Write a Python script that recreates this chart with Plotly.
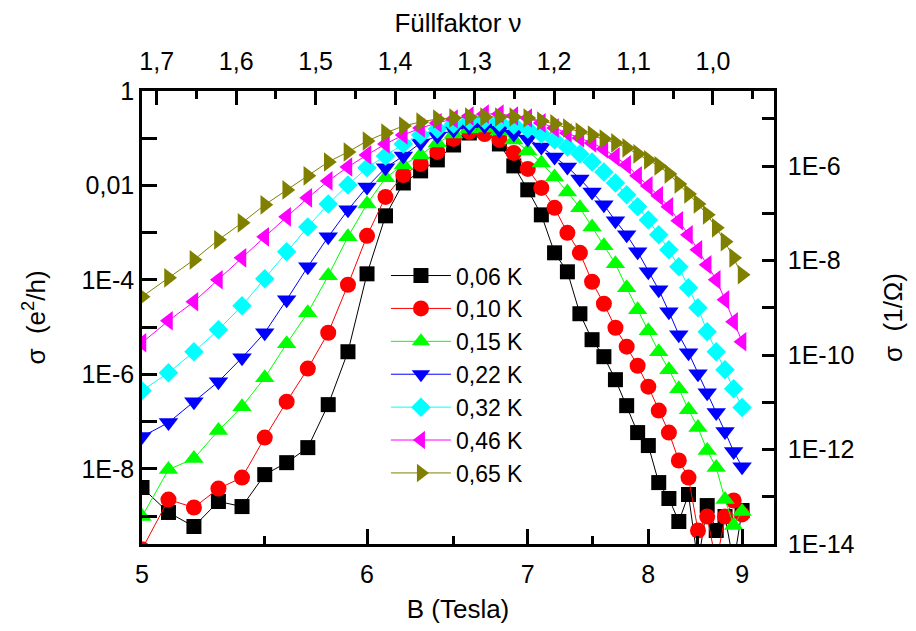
import math
import plotly.graph_objects as go

# Magnetic field (Tesla)
B = [5.0, 5.1, 5.2, 5.3, 5.4, 5.5, 5.6, 5.7, 5.8, 5.9,
     6.0, 6.1, 6.2, 6.3, 6.4, 6.5, 6.6, 6.7, 6.8, 6.9,
     7.0, 7.1, 7.2, 7.3, 7.4, 7.5, 7.6, 7.7, 7.8, 7.9,
     8.0, 8.1, 8.2, 8.3, 8.4, 8.5, 8.6, 8.7, 8.8, 8.9, 9.0]

# conductivity sigma in e^2/h
s006 = [4.05e-9, 1.2e-9, 6.05e-10, 2.05e-9, 1.6e-9, 7.6e-9, 1.36e-8, 2.83e-8, 2.3e-7, 3.03e-6,
        1.35e-4, 2.28e-3, 1.13e-2, 2.04e-2, 3.48e-2, 7.2e-2, 0.129, 0.15, 7.57e-2, 2.6e-2,
        8.1e-3, 2.39e-3, 3.76e-4, 1.49e-4, 1.93e-5, 5.45e-6, 2.38e-6, 7.76e-7, 2.19e-7, 5.89e-8,
        3.13e-8, 5.15e-9, 2.37e-9, 7.73e-10, 2.88e-9, 1.0e-10, 1.68e-9, 4.99e-10, 9.86e-10, 1.0e-10, 1.32e-9]
s010 = [2.0e-10, 2.25e-9, 1.53e-9, 3.85e-9, 6.58e-9, 4.61e-8, 2.66e-7, 1.33e-6, 7.65e-6, 7.92e-5,
        8.6e-4, 5.74e-3, 1.67e-2, 2.86e-2, 5.13e-2, 9.66e-2, 0.136, 0.123, 9.2e-2, 4.89e-2,
        2.24e-2, 8.9e-3, 3.36e-3, 9.95e-4, 3.76e-4, 9.16e-5, 3.14e-5, 9.75e-6, 3.87e-6, 1.53e-6,
        5.52e-7, 1.72e-7, 5.89e-8, 1.51e-8, 6.58e-9, 4.99e-10, 9.86e-10, 1.0e-10, 9.86e-10, 2.15e-9, 1.09e-9]
s015 = [9.86e-10, 9.7e-9, 1.66e-8, 6.49e-8, 2.08e-7, 8.55e-7, 4.48e-6, 2.03e-5, 1.23e-4, 8.19e-4,
        4.08e-3, 1.45e-2, 2.73e-2, 4.44e-2, 7.96e-2, 0.123, 0.157, 0.165, 0.143, 9.2e-2,
        5.39e-2, 3.0e-2, 1.52e-2, 7.32e-3, 3.36e-3, 1.33e-3, 5.28e-4, 2.2e-4, 6.84e-5, 2.34e-5,
        8.43e-6, 3.03e-6, 1.26e-6, 5.01e-7, 1.8e-7, 7.5e-8, 2.45e-8, 1.07e-8, 2.25e-9, 6.36e-10, 1.26e-9]
s022 = [4.84e-8, 9.57e-8, 2.66e-7, 7.05e-7, 2.26e-6, 7.65e-6, 3.81e-5, 1.9e-4, 8.19e-4, 3.05e-3,
        9.33e-3, 2.36e-2, 4.23e-2, 7.96e-2, 0.112, 0.150, 0.173, 0.182, 0.150, 0.123,
        9.66e-2, 6.55e-2, 4.03e-2, 2.47e-2, 1.38e-2, 7.32e-3, 3.89e-3, 1.79e-3, 9.03e-4, 3.95e-4,
        1.49e-4, 6.21e-5, 2.13e-5, 6.93e-6, 2.89e-6, 1.04e-6, 4.12e-7, 1.56e-7, 6.18e-8, 2.33e-8, 1.12e-8]
s032 = [4.55e-7, 1.09e-6, 3.03e-6, 8.85e-6, 2.85e-5, 1.06e-4, 3.95e-4, 1.33e-3, 4.08e-3, 1.03e-2,
        2.36e-2, 4.23e-2, 7.57e-2, 0.117, 0.157, 0.201, 0.232, 0.244, 0.221, 0.191,
        0.157, 0.123, 9.2e-2, 6.55e-2, 4.66e-2, 3.15e-2, 1.94e-2, 1.13e-2, 6.33e-3, 3.53e-3,
        1.87e-3, 9.03e-4, 4.35e-4, 1.9e-4, 6.84e-5, 2.58e-5, 8.03e-6, 3.03e-6, 1.26e-6, 5.01e-7, 1.99e-7]
s046 = [4.7e-6, 1.37e-5, 3.46e-5, 1.01e-4, 2.94e-4, 8.19e-4, 2.17e-3, 5.47e-3, 1.25e-2, 2.47e-2,
        4.44e-2, 7.57e-2, 0.117, 0.165, 0.211, 0.256, 0.296, 0.327, 0.327, 0.296,
        0.269, 0.211, 0.165, 0.129, 0.101, 7.96e-2, 5.94e-2, 4.03e-2, 2.73e-2, 1.6e-2,
        9.81e-3, 6.03e-3, 3.53e-3, 1.79e-3, 9.03e-4, 4.35e-4, 2.1e-4, 1.01e-4, 3.81e-5, 1.31e-5, 4.93e-6]
s065 = [4.42e-5, 1.11e-4, 2.67e-4, 7.08e-4, 1.62e-3, 3.89e-3, 8.07e-3, 1.6e-2, 3.15e-2, 5.13e-2,
        8.77e-2, 0.129, 0.182, 0.221, 0.256, 0.269, 0.282, 0.282, 0.282, 0.282,
        0.269, 0.232, 0.201, 0.165, 0.136, 0.117, 9.66e-2, 7.96e-2, 6.24e-2, 4.66e-2,
        3.48e-2, 2.6e-2, 1.76e-2, 1.08e-2, 6.64e-3, 4.08e-3, 2.39e-3, 1.27e-3, 6.43e-4, 2.94e-4, 1.29e-4]

series_names = ["0,06 K", "0,10 K", "0,15 K", "0,22 K", "0,32 K", "0,46 K", "0,65 K"]
series_vals = [s006, s010, s015, s022, s032, s046, s065]
colors = ["#000000", "#FF0000", "#00FF00", "#0000FF", "#00FFFF", "#FF00FF", "#808000"]
symbols = ["square", "circle", "triangle-up", "triangle-down", "diamond", "triangle-left", "triangle-right"]
sizes = [15, 16, 17, 17, 15, 17, 17]

# axis ticks
B_ticks = [5, 6, 7, 8, 9]
B_minor = [5.5, 6.5, 7.5, 8.5]
B_range = [5.0, 9.40]
nu_ticks = [1.7, 1.6, 1.5, 1.4, 1.3, 1.2, 1.1, 1.0]
nu_labels = ["1,7", "1,6", "1,5", "1,4", "1,3", "1,2", "1,1", "1,0"]
nu_minor = [1.65, 1.55, 1.45, 1.35, 1.25, 1.15, 1.05, 0.95]
nu_range = [1.7185, 0.9232]
left_tickvals = [1, 1e-1, 1e-2, 1e-3, 1e-4, 1e-5, 1e-6, 1e-7, 1e-8, 1e-9]
left_ticktext = ["1", "", "0,01", "", "1E-4", "", "1E-6", "", "1E-8", ""]
right_tickvals = [1e-5, 1e-6, 1e-7, 1e-8, 1e-9, 1e-10, 1e-11, 1e-12, 1e-13, 1e-14]
right_ticktext = ["", "1E-6", "", "1E-8", "", "1E-10", "", "1E-12", "", "1E-14"]
E2H = 3.874e-5  # e^2/h in 1/Ohm

FONT = "Liberation Sans, Arial, sans-serif"
invB = [1.0 / b for b in B]

fig = go.Figure()
for name, vals, c, sym, sz in zip(series_names, series_vals, colors, symbols, sizes):
    fig.add_trace(go.Scatter(
        x=invB, y=vals, name=name, mode="lines+markers",
        line=dict(color=c, width=1),
        marker=dict(symbol=sym, size=sz, color=c, line=dict(width=0)),
    ))
# empty helper trace so that the secondary (top / right) axes are drawn
fig.add_trace(go.Scatter(x=[], y=[], xaxis="x2", yaxis="y2", showlegend=False,
                         hoverinfo="skip", mode="markers"))

axis_common = dict(showline=True, linecolor="black", linewidth=2.5, ticks="inside",
                   tickcolor="black", tickwidth=2.5, showgrid=False, zeroline=False,
                   automargin=False,
                   tickfont=dict(family=FONT, size=25, color="black"))

fig.update_layout(
    width=916, height=631,
    margin=dict(l=134, r=150, t=83, b=95, autoexpand=False),
    paper_bgcolor="white", plot_bgcolor="white",
    font=dict(family=FONT, size=24, color="black"),
    showlegend=True,
    legend=dict(x=0.386, y=0.64, xanchor="left", yanchor="top",
                bgcolor="rgba(0,0,0,0)", font=dict(family=FONT, size=23),
                itemwidth=60, tracegroupgap=0),
    xaxis=dict(type="linear", range=[1.0 / B_range[0], 1.0 / B_range[1]],
               tickvals=[1.0 / b for b in B_ticks], ticktext=[str(b) for b in B_ticks],
               ticklen=15, ticklabelstandoff=6,
               minor=dict(tickvals=[1.0 / b for b in B_minor], ticklen=8, ticks="inside",
                          tickcolor="black", tickwidth=2.5, showgrid=False),
               title=dict(text="B (Tesla)", font=dict(family=FONT, size=26), standoff=14),
               **axis_common),
    xaxis2=dict(type="linear", range=nu_range, overlaying="x", side="top", anchor="y",
                tickvals=nu_ticks, ticktext=nu_labels, ticklen=14, ticklabelstandoff=8,
                minor=dict(tickvals=nu_minor, ticklen=8, ticks="inside",
                           tickcolor="black", tickwidth=2.5, showgrid=False),
                title=dict(text="Füllfaktor ν", font=dict(family=FONT, size=26), standoff=26),
                **axis_common),
    yaxis=dict(type="log", range=[math.log10(1e-14 / E2H), 0],
               tickvals=left_tickvals, ticktext=left_ticktext, ticklen=15,
               title=dict(text="σ  (e<sup>2</sup>/h)", font=dict(family=FONT, size=26), standoff=29),
               **axis_common),
    yaxis2=dict(type="log", range=[-14, math.log10(E2H)], overlaying="y", side="right", anchor="x",
                tickvals=right_tickvals, ticktext=right_ticktext, ticklen=12, ticklabelstandoff=6,
                title=dict(text="σ  (1/Ω)", font=dict(family=FONT, size=26), standoff=31),
                **axis_common),
)

fig.write_html("out.html")
